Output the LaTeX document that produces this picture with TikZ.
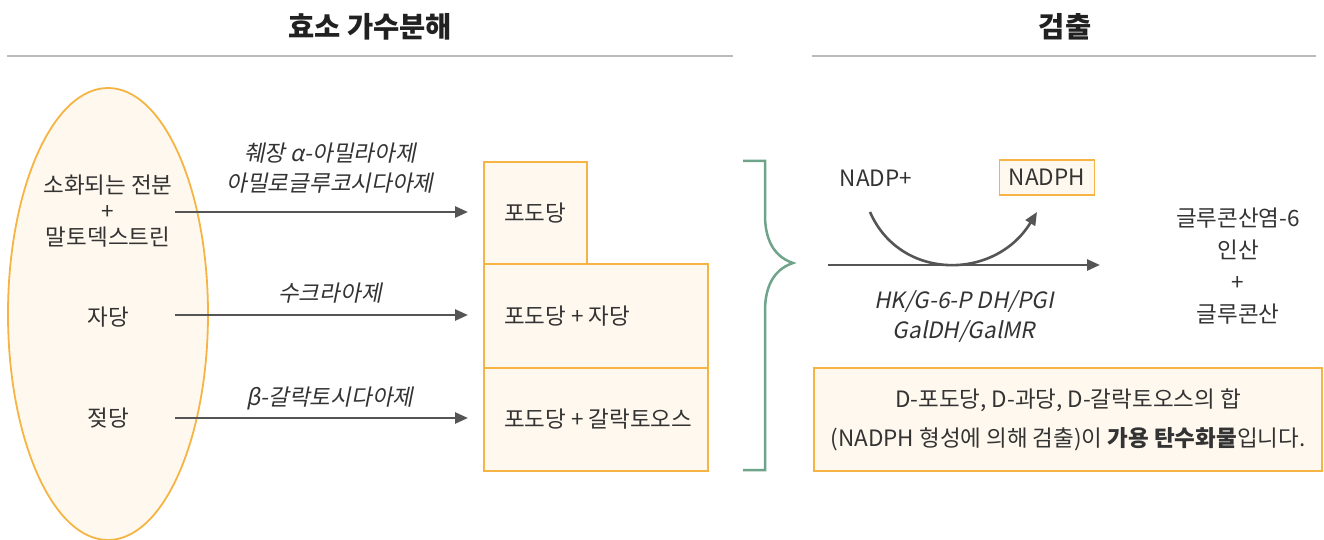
\documentclass[tikz,border=0pt]{standalone}
\usepackage{fontspec}
\setmainfont{Noto Sans CJK KR}[AutoFakeSlant=0.2]
\usetikzlibrary{shapes.geometric,arrows.meta}
\definecolor{orng}{HTML}{F5B443}
\definecolor{cream}{HTML}{FFF8EE}
\definecolor{txtc}{HTML}{333333}
\definecolor{arrc}{HTML}{555555}
\definecolor{brc}{HTML}{6FA38A}
\definecolor{rulec}{HTML}{BBBBBB}
\tikzset{
  txt/.style={text=txtc, inner sep=0pt, font=\fontsize{22.5}{26}\selectfont, align=center},
  itl/.style={txt, font=\fontsize{22.5}{30}\selectfont\itshape},
  hdr/.style={text=black!87, inner sep=0pt, font=\fontsize{28.5}{30}\selectfont\bfseries},
  rulel/.style={draw=rulec, line width=1.3pt},
  box/.style={draw=orng, fill=cream, line width=2pt, inner sep=0pt},
  arr/.style={draw=arrc, line width=2.6pt, -{Triangle[length=13pt,width=11pt]}},
  brace/.style={draw=brc, line width=2.5pt}
}
\begin{document}
\begin{tikzpicture}[x=1pt,y=-1pt]
\useasboundingbox (0,0) rectangle (1324,540);
% headers
\node[hdr] (h1) at (370,27) {효소 가수분해};
\node[hdr] (h2) at (1065,27) {검출};
\coordinate (r1a) at (7,56); \coordinate (r1b) at (733,56);
\coordinate (r2a) at (812,56); \coordinate (r2b) at (1316,56);
\draw[rulel] (r1a) -- (r1b);
\draw[rulel] (r2a) -- (r2b);
% ellipse
\node[ellipse, draw=orng, fill=cream, line width=1.8pt, minimum width=200pt, minimum height=452pt, inner sep=0pt] (ell) at (108,314) {};
\node[txt] (s1) at (108,211) {소화되는 전분\\+\\말토덱스트린};
\node[txt] (s2) at (108,317) {자당};
\node[txt] (s3) at (108,418) {젖당};
% boxes
\node[box, minimum width=103pt, minimum height=102pt, anchor=north west] (b1) at (483,161) {};
\node[box, minimum width=224pt, minimum height=104pt, anchor=north west] (b2) at (483,263) {};
\node[box, minimum width=224pt, minimum height=103pt, anchor=north west] (b3) at (483,367) {};
\node[txt, anchor=west] (t1) at ([xshift=21pt]b1.west) {포도당};
\node[txt, anchor=west] (t2) at ([xshift=21pt]b2.west) {포도당 + 자당};
\node[txt, anchor=west] (t3) at ([xshift=21pt]b3.west) {포도당 + 갈락토오스};
% arrows
\coordinate (a1) at (175,212);
\coordinate (a2) at (175,315);
\coordinate (a3) at (175,418);
\draw[arr, shorten >=15pt] (a1) -- (a1 -| b1.west);
\draw[arr, shorten >=15pt] (a2) -- (a2 -| b2.west);
\draw[arr, shorten >=15pt] (a3) -- (a3 -| b3.west);
\node[itl] (l1) at (330,168) {췌장 α-아밀라아제\\아밀로글루코시다아제};
\node[itl] (l2) at (330,293) {수크라아제};
\node[itl] (l3) at (330,398) {β-갈락토시다아제};
% brace
\draw[brace] (743,161) -- (765,161) -- (765,215)
  .. controls (765,245) and (778,258) .. (793,263)
  .. controls (778,268) and (765,281) .. (765,311)
  -- (765,470) -- (743,470);
% detection
\node[txt] (nadp) at (876,178) {NADP+};
\node[box, minimum width=95pt, minimum height=35pt, line width=1.8pt] (nadph) at (1047,177.5) {};
\node[txt] (nadpht) at (nadph.center) {NADPH};
\coordinate (m1) at (828,265);
\coordinate (m2) at (1100,265);
\draw[arr] (m1) -- (m2);
\coordinate (c1) at (870,212);
\coordinate (c2) at (1037,212);
\draw[arr] (c1) .. controls (900,281) and (995,281) .. (c2);
\node[itl] (enz) at (964,317) {HK/G-6-P DH/PGI\\GalDH/GalMR};
\node[txt, font=\fontsize{22.5}{32}\selectfont] (prod) at (1238,266) {글루콘산염-6\\인산\\+\\글루콘산};
\node[box, minimum width=508pt, minimum height=103pt, anchor=north west] (res) at (813,367) {};
\node[txt, font=\fontsize{22.5}{39}\selectfont] (rest) at (res.center) {D-포도당, D-과당, D-갈락토오스의 합\\(NADPH 형성에 의해 검출)이 \textbf{가용 탄수화물}입니다.};
\end{tikzpicture}
\end{document}
